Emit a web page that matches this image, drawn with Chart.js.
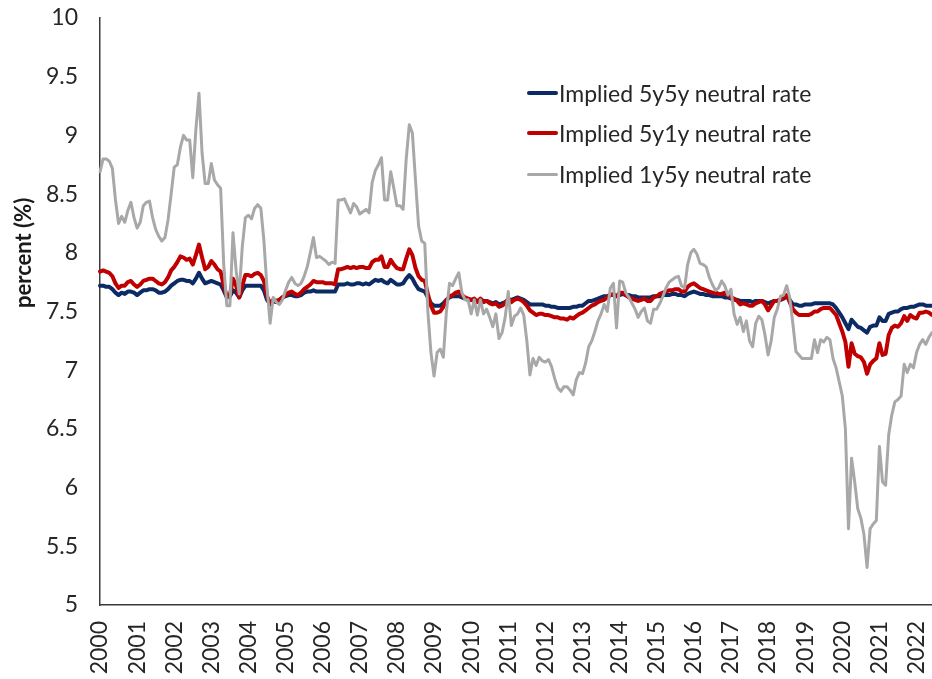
<!DOCTYPE html>
<html>
<head>
<meta charset="utf-8">
<script src="https://cdn.jsdelivr.net/npm/chart.js@4.4.1/dist/chart.umd.min.js"></script>
<style>
  body { margin: 0; background: #fff; overflow: hidden; font-family: Lato, sans-serif; }
  #wrap { position: relative; width: 932px; height: 679px; }
  #yTitle {
    position: absolute; left: 10px; top: 194px; height: 118px;
    writing-mode: vertical-rl; transform: rotate(180deg);
    font-family: Lato, sans-serif; font-weight: 700; font-size: 22px; line-height: 26px;
    color: #1a1a1a; white-space: nowrap; text-align: center;
  }
  #legend { position: absolute; left: 527px; top: 0; }
  .legend-row { position: absolute; left: 0; display: flex; align-items: center; white-space: nowrap;
    font: 23px Lato, sans-serif; color: #262626; transform: translateY(-50%); }
  .legend-line { width: 31px; margin-right: 1px; border-radius: 2px; }
</style>
</head>
<body>
<div id="wrap">
  <canvas id="chart" width="932" height="679"></canvas>
  <div id="yTitle">percent (%)</div>
  <div id="legend"></div>
</div>
<script>
// Years on the category axis (monthly data, Jan 2000 - Jun 2022)
const yearTicks = ['2000','2001','2002','2003','2004','2005','2006','2007','2008','2009','2010',
  '2011','2012','2013','2014','2015','2016','2017','2018','2019','2020','2021','2022'];

// Implied 5y5y neutral rate
const rate5y5y = [
  7.72, 7.72, 7.71, 7.71, 7.69, 7.66, 7.64, 7.66, 7.65, 7.67, 7.67, 7.66,
  7.64, 7.66, 7.68, 7.68, 7.69, 7.69, 7.68, 7.66, 7.66, 7.67, 7.69, 7.72,
  7.74, 7.76, 7.77, 7.77, 7.76, 7.76, 7.74, 7.78, 7.83, 7.78, 7.74, 7.75,
  7.76, 7.75, 7.74, 7.73, 7.68, 7.62, 7.63, 7.68, 7.66, 7.62, 7.68, 7.72,
  7.72, 7.72, 7.72, 7.72, 7.72, 7.68, 7.60, 7.56, 7.59, 7.58, 7.60, 7.62,
  7.63, 7.64, 7.64, 7.63, 7.63, 7.64, 7.66, 7.67, 7.67, 7.68, 7.67, 7.67,
  7.67, 7.67, 7.67, 7.67, 7.67, 7.73, 7.73, 7.73, 7.74, 7.73, 7.73, 7.74,
  7.74, 7.73, 7.74, 7.73, 7.75, 7.77, 7.76, 7.77, 7.75, 7.74, 7.77, 7.75,
  7.73, 7.73, 7.74, 7.78, 7.81, 7.78, 7.73, 7.69, 7.68, 7.67, 7.62, 7.57,
  7.55, 7.55, 7.55, 7.57, 7.60, 7.62, 7.63, 7.63, 7.63, 7.62, 7.61, 7.60,
  7.60, 7.59, 7.59, 7.60, 7.59, 7.59, 7.58, 7.57, 7.58, 7.56, 7.57, 7.58,
  7.60, 7.60, 7.61, 7.62, 7.61, 7.60, 7.58, 7.56, 7.56, 7.56, 7.56, 7.56,
  7.55, 7.55, 7.54, 7.54, 7.53, 7.53, 7.53, 7.53, 7.53, 7.54, 7.54, 7.55,
  7.55, 7.57, 7.59, 7.59, 7.60, 7.61, 7.62, 7.63, 7.63, 7.64, 7.64, 7.63,
  7.64, 7.65, 7.64, 7.64, 7.63, 7.63, 7.62, 7.62, 7.62, 7.62, 7.62, 7.63,
  7.63, 7.63, 7.64, 7.64, 7.64, 7.65, 7.65, 7.64, 7.64, 7.63, 7.65, 7.66,
  7.67, 7.66, 7.65, 7.65, 7.64, 7.64, 7.63, 7.63, 7.63, 7.63, 7.62, 7.62,
  7.61, 7.60, 7.60, 7.59, 7.59, 7.59, 7.59, 7.58, 7.59, 7.59, 7.59, 7.58,
  7.57, 7.58, 7.59, 7.59, 7.60, 7.61, 7.63, 7.60, 7.56, 7.56, 7.55, 7.55,
  7.56, 7.56, 7.56, 7.57, 7.57, 7.57, 7.57, 7.57, 7.57, 7.56, 7.53, 7.49,
  7.45, 7.40, 7.35, 7.43, 7.40, 7.37, 7.36, 7.34, 7.32, 7.37, 7.38, 7.38,
  7.45, 7.42, 7.42, 7.48, 7.49, 7.50, 7.50, 7.52, 7.53, 7.53, 7.54, 7.54,
  7.55, 7.56, 7.56, 7.55, 7.55, 7.55
];

// Implied 5y1y neutral rate
const rate5y1y = [
  7.84, 7.85, 7.84, 7.83, 7.80, 7.74, 7.70, 7.72, 7.72, 7.75, 7.76, 7.73,
  7.71, 7.73, 7.76, 7.77, 7.78, 7.78, 7.76, 7.74, 7.73, 7.75, 7.79, 7.85,
  7.88, 7.92, 7.97, 7.96, 7.94, 7.95, 7.90, 7.98, 8.07, 7.96, 7.86, 7.88,
  7.93, 7.90, 7.86, 7.84, 7.72, 7.63, 7.64, 7.78, 7.72, 7.62, 7.72, 7.81,
  7.81, 7.80, 7.82, 7.83, 7.81, 7.76, 7.63, 7.57, 7.60, 7.59, 7.60, 7.62,
  7.64, 7.66, 7.67, 7.65, 7.64, 7.66, 7.69, 7.71, 7.73, 7.76, 7.75, 7.75,
  7.75, 7.74, 7.74, 7.74, 7.73, 7.86, 7.86, 7.87, 7.88, 7.87, 7.88, 7.87,
  7.88, 7.88, 7.87, 7.87, 7.92, 7.94, 7.94, 7.97, 7.88, 7.88, 7.94, 7.90,
  7.87, 7.86, 7.86, 7.95, 8.03, 7.98, 7.87, 7.80, 7.77, 7.76, 7.65, 7.55,
  7.49, 7.49, 7.50, 7.54, 7.59, 7.63, 7.64, 7.66, 7.67, 7.64, 7.62, 7.61,
  7.60, 7.61, 7.58, 7.61, 7.58, 7.59, 7.57, 7.56, 7.57, 7.54, 7.55, 7.57,
  7.61, 7.58, 7.60, 7.61, 7.60, 7.58, 7.55, 7.51, 7.49, 7.47, 7.48, 7.48,
  7.47, 7.47, 7.46, 7.45, 7.45, 7.44, 7.44, 7.43, 7.45, 7.44, 7.46, 7.48,
  7.49, 7.51, 7.53, 7.55, 7.56, 7.58, 7.59, 7.60, 7.62, 7.64, 7.65, 7.63,
  7.66, 7.66, 7.64, 7.62, 7.61, 7.60, 7.59, 7.60, 7.61, 7.59, 7.59, 7.62,
  7.63, 7.65, 7.66, 7.67, 7.68, 7.68, 7.69, 7.69, 7.67, 7.67, 7.71, 7.73,
  7.74, 7.72, 7.70, 7.69, 7.68, 7.67, 7.66, 7.66, 7.65, 7.65, 7.66, 7.64,
  7.62, 7.61, 7.59, 7.56, 7.57, 7.56, 7.55, 7.55, 7.57, 7.58, 7.59, 7.56,
  7.51, 7.55, 7.59, 7.59, 7.60, 7.62, 7.64, 7.58, 7.52, 7.49, 7.47, 7.47,
  7.47, 7.47, 7.48, 7.50, 7.50, 7.52, 7.53, 7.53, 7.53, 7.50, 7.47, 7.40,
  7.33, 7.24, 7.03, 7.23, 7.14, 7.12, 7.11, 7.07, 6.97, 7.05, 7.08, 7.10,
  7.23, 7.13, 7.14, 7.30, 7.36, 7.38, 7.37, 7.40, 7.46, 7.42, 7.47, 7.45,
  7.44, 7.49, 7.49, 7.50, 7.49, 7.47
];

// Implied 1y5y neutral rate
const rate1y5y = [
  8.69, 8.80, 8.80, 8.78, 8.72, 8.45, 8.25, 8.31, 8.26, 8.36, 8.43, 8.30,
  8.21, 8.26, 8.40, 8.43, 8.44, 8.30, 8.20, 8.14, 8.10, 8.13, 8.28, 8.50,
  8.73, 8.75, 8.90, 9.00, 8.96, 8.96, 8.64, 9.05, 9.36, 8.85, 8.59, 8.59,
  8.76, 8.62, 8.58, 8.55, 7.90, 7.55, 7.55, 8.17, 7.85, 7.65, 8.05, 8.30,
  8.32, 8.29, 8.38, 8.41, 8.38, 8.10, 7.70, 7.40, 7.62, 7.58, 7.56, 7.60,
  7.68, 7.75, 7.79, 7.74, 7.72, 7.74, 7.80, 7.88, 8.00, 8.13, 7.96, 7.97,
  7.95, 7.93, 7.90, 7.92, 7.91, 8.45, 8.45, 8.46, 8.40, 8.34, 8.42, 8.39,
  8.33, 8.35, 8.37, 8.34, 8.60, 8.70, 8.75, 8.81, 8.45, 8.45, 8.69, 8.55,
  8.40, 8.40, 8.37, 8.80, 9.09, 9.02, 8.62, 8.23, 8.10, 8.08, 7.50, 7.15,
  6.95, 7.15, 7.18, 7.11, 7.50, 7.74, 7.72, 7.78, 7.83, 7.66, 7.60, 7.60,
  7.48, 7.60, 7.47, 7.60, 7.48, 7.52, 7.45, 7.37, 7.48, 7.27, 7.32, 7.45,
  7.67, 7.38, 7.46, 7.48, 7.53, 7.47, 7.25, 6.96, 7.10, 7.04, 7.11, 7.08,
  7.07, 7.09, 7.03, 6.93, 6.85, 6.82, 6.86, 6.86, 6.83, 6.79, 6.92, 6.98,
  6.97, 7.06, 7.20, 7.25, 7.33, 7.42, 7.48, 7.56, 7.50, 7.70, 7.74, 7.36,
  7.76, 7.75, 7.66, 7.62, 7.57, 7.52, 7.45, 7.50, 7.53, 7.42, 7.40, 7.52,
  7.52, 7.57, 7.63, 7.70, 7.75, 7.77, 7.79, 7.80, 7.72, 7.70, 7.90, 8.00,
  8.03, 7.99, 7.91, 7.90, 7.88, 7.79, 7.73, 7.68, 7.70, 7.76, 7.72, 7.64,
  7.69, 7.48, 7.39, 7.45, 7.33, 7.42, 7.25, 7.20, 7.40, 7.46, 7.43, 7.30,
  7.13, 7.25, 7.45, 7.52, 7.63, 7.64, 7.72, 7.62, 7.40, 7.16, 7.13, 7.10,
  7.10, 7.10, 7.10, 7.26, 7.15, 7.26, 7.24, 7.28, 7.26, 7.10, 7.02, 6.90,
  6.78, 6.50, 5.65, 6.25, 6.05, 5.82, 5.74, 5.60, 5.32, 5.65, 5.69, 5.72,
  6.35, 6.05, 6.02, 6.45, 6.62, 6.73, 6.75, 6.78, 7.05, 6.98, 7.05, 7.02,
  7.15, 7.22, 7.26, 7.22, 7.28, 7.32
];

// Series colours
const seriesColors = { r5y5y: '#0c2a64', r5y1y: '#c00000', r1y5y: '#a8a8a8' };

// Month labels built from the year list, cut to the data length
const monthLabels = yearTicks
  .flatMap(y => ['01','02','03','04','05','06','07','08','09','10','11','12'].map(m => `${y}-${m}`))
  .slice(0, rate5y5y.length);

const tickFont = { family: 'Lato', size: 23 };

const chart = new Chart(document.getElementById('chart'), {
  type: 'line',
  data: {
    labels: monthLabels,
    datasets: [
      { label: 'Implied 5y5y neutral rate', data: rate5y5y, borderColor: seriesColors.r5y5y, borderWidth: 4, order: 3 },
      { label: 'Implied 5y1y neutral rate', data: rate5y1y, borderColor: seriesColors.r5y1y, borderWidth: 4, order: 2 },
      { label: 'Implied 1y5y neutral rate', data: rate1y5y, borderColor: seriesColors.r1y5y, borderWidth: 3, order: 1 }
    ]
  },
  options: {
    responsive: false,
    animation: false,
    events: [],
    layout: { autoPadding: false, padding: { top: 18, right: 0, left: 0, bottom: 0 } },
    elements: {
      point: { radius: 0 },
      line: { tension: 0, borderJoinStyle: 'round', borderCapStyle: 'round', fill: false }
    },
    plugins: {
      legend: { display: false },
      tooltip: { enabled: false }
    },
    scales: {
      x: {
        type: 'category',
        offset: false,
        grid: { display: false, drawTicks: false },
        border: { display: true, color: '#3a3a3a', width: 1.5 },
        // fixed axis height, labels run off the bottom like the original
        afterFit: scale => {
          scale.height = 74;
          scale.paddingLeft = 0;
          scale.paddingRight = 0;
        },
        ticks: {
          autoSkip: false,
          minRotation: 90,
          maxRotation: 90,
          padding: 16,
          color: '#262626',
          font: tickFont,
          callback: (val, i) => monthLabels[i].endsWith('-01') ? monthLabels[i].slice(0, 4) : null
        }
      },
      y: {
        min: 5,
        max: 10,
        grid: { display: false, drawTicks: false },
        border: { display: true, color: '#3a3a3a', width: 1.5 },
        afterFit: scale => {
          scale.width = 100;
          scale.paddingTop = 0;
          scale.paddingBottom = 0;
        },
        ticks: { stepSize: 0.5, padding: 22, color: '#262626', font: tickFont, callback: v => String(v) }
      }
    }
  }
});

// Legend inside the plot, built from the datasets
const legendRows = [93, 133, 174];
const legendBox = document.getElementById('legend');
chart.data.datasets.forEach((ds, i) => {
  const row = document.createElement('div');
  row.className = 'legend-row';
  row.style.top = legendRows[i] + 'px';
  row.innerHTML = `<span class="legend-line" style="height:${ds.borderWidth}px;background:${ds.borderColor}"></span>${ds.label}`;
  legendBox.appendChild(row);
});
</script>
</body>
</html>
